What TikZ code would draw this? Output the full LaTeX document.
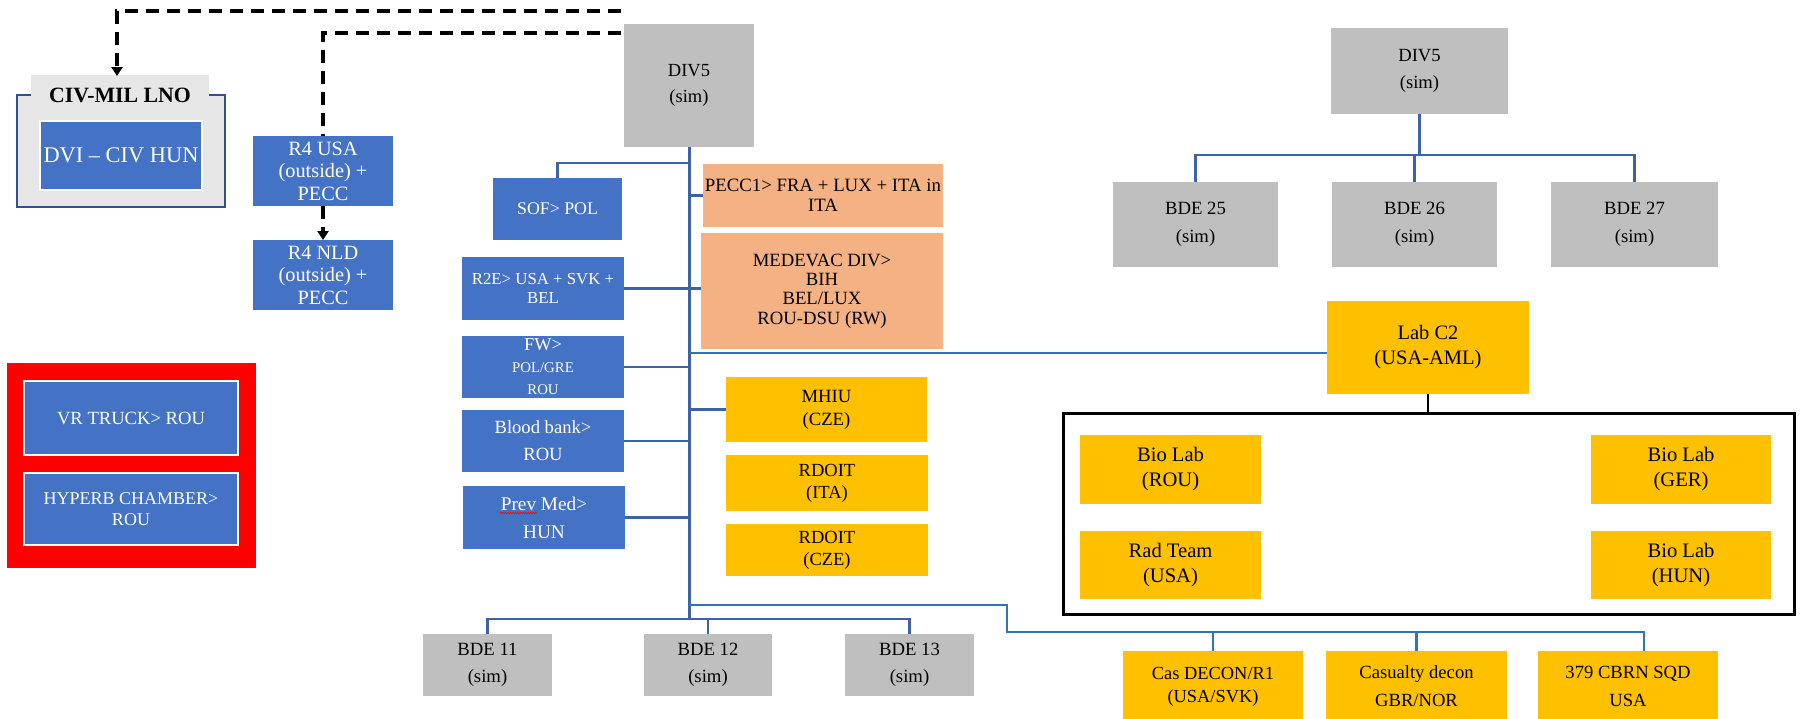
\documentclass[tikz,border=0pt]{standalone}
\usepackage{fontspec}
\setmainfont{Liberation Serif}
\usetikzlibrary{arrows.meta,decorations.pathmorphing}
\definecolor{cblue}{HTML}{4472C4}
\definecolor{cgray}{HTML}{BFBFBF}
\definecolor{corange}{HTML}{F4B183}
\definecolor{cgold}{HTML}{FFC000}
\definecolor{clight}{HTML}{E7E6E6}
\definecolor{cline}{HTML}{3D63A6}
\definecolor{cline2}{HTML}{2E75B6}
\definecolor{cframe}{HTML}{2F528F}
\definecolor{cred}{HTML}{FF0000}
\newcommand{\fsz}[2]{\fontsize{#1}{#2}\selectfont}
\begin{document}
\begin{tikzpicture}[x=1pt,y=-1pt,
  box/.style={inner sep=0pt,outer sep=0pt,align=center},
  sz/.style 2 args={minimum width=#1,minimum height=#2},
  bluebox/.style={box,fill=cblue,text=white},
  graybox/.style={box,fill=cgray,text=black},
  orangebox/.style={box,fill=corange,text=black},
  goldbox/.style={box,fill=cgold,text=black},
  wh/.style={draw=white,line width=2pt},
  conn/.style={draw=cline,line width=2.2pt},
  conn2/.style={draw=cline2,line width=2.2pt},
  dline/.style={draw=black,line width=3.5pt,dash pattern=on 13pt off 8pt},
  tip/.style={-{Triangle[width=11pt,length=9pt]}}
]
\useasboundingbox (0,0) rectangle (1800,718);
\clip (0,0) rectangle (1800,718);
\fill[white] (0,0) rectangle (1800,718);

% ---- left: CIV-MIL LNO ----
\node[box,fill=clight,draw=cframe,line width=1.5pt,sz={208}{112}] (civframe) at (121,151) {};
\node[box,fill=clight,sz={178}{26}] (civtitle) at (120,88) {};
\node[box,font=\fsz{21.8}{24}\bfseries] (civtext) at (120,95) {CIV-MIL LNO};
\node[bluebox,wh,sz={162}{69},font=\fsz{22.4}{25}] (dvi) at (121,155.5) {DVI -- CIV HUN};

% ---- R4 boxes ----
\node[bluebox,sz={140}{70},font=\fsz{20.3}{22.5}] (r4usa) at (323,171) {R4 USA\\(outside) +\\PECC};
\node[bluebox,sz={140}{70},font=\fsz{20.3}{22.5}] (r4nld) at (323,275) {R4 NLD\\(outside) +\\PECC};

% ---- red box ----
\node[box,fill=cred,draw=cframe,line width=1pt,sz={248}{204}] (redbox) at (131,465) {};
\node[bluebox,wh,sz={214}{74},font=\fsz{18.6}{21}] (vr) at (131,418) {VR TRUCK> ROU};
\node[bluebox,wh,sz={214}{72},font=\fsz{18}{20.5}] (hyperb) at (131,509) {HYPERB CHAMBER>\\ROU};

% ---- central DIV5 ----
\node[graybox,sz={130}{123},font=\fsz{18.5}{26.5}] (div5a) at (689,85.5) {DIV5\\(sim)};
\node[bluebox,sz={129}{62},font=\fsz{17.8}{20}] (sof) at (557.5,209) {SOF> POL};
\node[bluebox,sz={162}{63},font=\fsz{16.8}{19.5}] (r2e) at (543,288.5) {R2E> USA + SVK +\\BEL};
\node[bluebox,sz={162}{62},font=\fsz{14.8}{22}] (fw) at (543,367) {{\fsz{18.3}{25}FW>}\\POL/GRE\\ROU};
\node[bluebox,sz={162}{62},font=\fsz{18.6}{27}] (blood) at (543,441) {Blood bank>\\ROU};
\node[bluebox,sz={162}{63},font=\fsz{19.3}{28}] (prev) at (544,517.5) {Prev Med>\\HUN};
\node[orangebox,sz={240}{63},font=\fsz{18.8}{19.5}] (pecc1) at (823,195.5) {PECC1> FRA + LUX + ITA in\\ITA};
\node[orangebox,sz={242}{116},font=\fsz{18.7}{19.3}] (medevac) at (822,291) {MEDEVAC DIV>\\BIH\\BEL/LUX\\ROU-DSU (RW)};
\node[goldbox,sz={201}{65},font=\fsz{18.7}{23}] (mhiu) at (826.5,409.5) {MHIU\\(CZE)};
\node[goldbox,sz={202}{56},font=\fsz{18.5}{22}] (rdoit1) at (827,483) {RDOIT\\(ITA)};
\node[goldbox,sz={202}{52},font=\fsz{18.5}{22}] (rdoit2) at (827,550) {RDOIT\\(CZE)};
\node[graybox,sz={129}{62},font=\fsz{18.7}{27}] (bde11) at (487.5,665) {BDE 11\\(sim)};
\node[graybox,sz={128}{62},font=\fsz{18.7}{27}] (bde12) at (708,665) {BDE 12\\(sim)};
\node[graybox,sz={129}{62},font=\fsz{18.7}{27}] (bde13) at (909.5,665) {BDE 13\\(sim)};

% ---- right DIV5 ----
\node[graybox,sz={177}{86},font=\fsz{18.6}{26.5}] (div5b) at (1419.5,71) {DIV5\\(sim)};
\node[graybox,sz={165}{85},font=\fsz{18.7}{27.5}] (bde25) at (1195.5,224.5) {BDE 25\\(sim)};
\node[graybox,sz={165}{85},font=\fsz{18.7}{27.5}] (bde26) at (1414.5,224.5) {BDE 26\\(sim)};
\node[graybox,sz={167}{85},font=\fsz{18.7}{27.5}] (bde27) at (1634.5,224.5) {BDE 27\\(sim)};
\node[goldbox,sz={202}{93},font=\fsz{20.5}{25}] (labc2) at (1428,347.5) {Lab C2\\(USA-AML)};
\node[box,draw=black,line width=3pt,sz={731}{201}] (labframe) at (1428.5,513.5) {};
\node[goldbox,sz={181}{69},font=\fsz{20.6}{25}] (biorou) at (1170.5,469.5) {Bio Lab\\(ROU)};
\node[goldbox,sz={181}{68},font=\fsz{20.6}{25}] (radteam) at (1170.5,565) {Rad Team\\(USA)};
\node[goldbox,sz={180}{69},font=\fsz{20.6}{25}] (bioger) at (1681,469.5) {Bio Lab\\(GER)};
\node[goldbox,sz={180}{68},font=\fsz{20.6}{25}] (biohun) at (1681,565) {Bio Lab\\(HUN)};
\node[goldbox,sz={180}{71},font=\fsz{18.4}{23}] (casdecon) at (1213,686.5) {Cas DECON/R1\\(USA/SVK)};
\node[goldbox,sz={181}{71},font=\fsz{18.6}{28}] (casualty) at (1416.5,686.5) {Casualty decon\\GBR/NOR};
\node[goldbox,sz={180}{71},font=\fsz{18.6}{28}] (cbrn) at (1628,686.5) {379 CBRN SQD\\USA};

% ---- coordinates ----
\coordinate (tx) at (689,0);
\coordinate (tb) at (689,619);
\coordinate (ts) at (689,163);
\coordinate (tr) at (689,605);
\coordinate (lc) at (689,353);
\coordinate (k1) at (1007,632);
\coordinate (cbrnin) at (1644,651);
\coordinate (rb) at (1419.5,155);
\coordinate (d1) at (621,11);
\coordinate (d2) at (621,33);

% ---- central connectors ----
\draw[conn,line width=3pt] (div5a.south) -- (tb);
\draw[conn] (ts) -| (sof.north);
\draw[conn] (pecc1.west -| tx) -- (pecc1.west);
\draw[conn] (r2e.east) -- (r2e.east -| medevac.west);
\draw[conn] (fw.east) -- (fw.east -| tx);
\draw[conn] (blood.east) -- (blood.east -| tx);
\draw[conn] (prev.east) -- (prev.east -| tx);
\draw[conn] (mhiu.west -| tx) -- (mhiu.west);
\draw[conn2,line width=1.6pt] (lc) -- (lc -| labc2.west);
\draw[conn] (bde11.north) |- (tb) -| (bde13.north);
\draw[conn] (bde12.north) -- (bde12.north |- tb);
\draw[conn2] (tr) -| (k1) -- (k1 -| cbrnin) -- (cbrnin);
\draw[conn2] (casdecon.north) -- (casdecon.north |- k1);
\draw[conn2] (casualty.north) -- (casualty.north |- k1);

% ---- right connectors ----
\draw[conn,line width=3.5pt] (div5b.south) -- (rb);
\draw[conn] (bde25.north) |- (rb) -| (bde27.north);
\draw[conn] (bde26.north) -- (bde26.north |- rb);
\draw[black,line width=2.5pt] (labc2.south) -- (labc2.south |- labframe.north);

% ---- dashed links ----
\draw[dline,tip] (d1) -| ([xshift=-3pt,yshift=-1pt]civtitle.north);
\draw[dline] (d2) -| (r4usa.north);
\draw[dline,tip] (r4usa.south) -- (r4nld.north);

% ---- spell-check underline ----
\draw[red,line width=0.6pt,decorate,decoration={zigzag,amplitude=0.8pt,segment length=2.5pt}] (500,513) -- (537,513);
\end{tikzpicture}
\end{document}
